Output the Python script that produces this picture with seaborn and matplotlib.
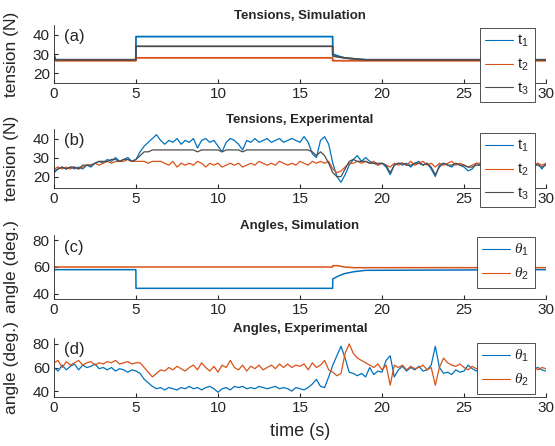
import numpy as np
import seaborn as sns
import matplotlib.pyplot as plt

# ---- simulation data (at key times) ----
t_sim = [0, 0.1, 4.99, 5.0, 16.99, 17.0, 17.3, 17.7, 18.3, 19.0, 30]
t1_sim = [30, 27, 27, 39, 39, 30, 29, 28, 27.5, 27, 27]
t2_sim = [27, 26.5, 26.5, 28, 28, 26.5, 26.5, 26.5, 26.5, 26.5, 26.5]
t3_sim = [28, 27, 27, 34, 34, 29, 28.5, 28, 27.5, 27, 27]

th1_sim = [58, 58, 58, 44, 44, 51, 53, 55, 56.5, 57.5, 58]
th2_sim = [60, 60, 60, 60, 60, 61, 61, 60, 59.5, 59.5, 59.5]

# ---- experimental data, sampled every 0.25 s ----
t_exp = np.arange(0, 30.01, 0.25)

t1_exp = [22, 24, 25, 24, 25,
          24, 25, 24, 26, 25, 27, 28, 27, 29, 28, 30, 28, 29, 30, 28, 29,
          33, 36, 38, 40, 42, 39, 37, 39, 38, 40, 37, 39, 38, 40, 35, 39,
          40, 38, 39, 36, 33, 38, 40, 39, 37, 34, 39, 38, 40, 38, 39, 40,
          38, 39, 40, 38, 39, 40, 39, 38, 41, 38, 32, 30, 39, 41, 37, 27,
          20, 17, 21, 26, 29, 31, 28, 30, 28, 27, 26, 27, 25, 21, 26, 27,
          26, 27, 25, 27, 28, 26, 27, 24, 20, 26, 27, 26, 25, 27, 26, 25,
          23, 24, 27, 26, 27, 26, 28, 26, 25, 27, 26, 27, 26, 25, 27, 26,
          25, 27, 24, 27]
t2_exp = [24, 25, 24, 25, 24,
          25, 24, 25, 26, 26, 27, 26, 27, 28, 27, 28, 28, 28, 29, 28, 28,
          28, 28, 27, 28, 28, 28, 27, 26, 28, 25, 27, 26, 27, 26, 28, 27,
          25, 27, 26, 27, 25, 26, 27, 26, 27, 25, 26, 27, 26, 28, 27, 26,
          27, 26, 28, 27, 26, 27, 26, 28, 27, 26, 28, 27, 28, 27, 28, 24,
          22, 23, 25, 27, 27, 28, 27, 28, 27, 28, 26, 27, 26, 25, 27, 26,
          27, 26, 28, 26, 27, 28, 26, 27, 25, 27, 26, 27, 28, 26, 27, 26,
          25, 26, 27, 27, 26, 27, 26, 27, 27, 26, 27, 26, 25, 27, 26, 27,
          26, 27, 26, 27]
t3_exp = [23, 24, 25, 24, 25,
          25, 24, 26, 26, 26, 27, 28, 28, 28, 29, 29, 28, 29, 29, 28, 29,
          31, 33, 33, 34, 34, 34, 34, 34, 34, 34, 34, 34, 34, 34, 33, 34,
          34, 34, 34, 34, 33, 34, 34, 34, 34, 33, 34, 34, 34, 34, 34, 34,
          34, 34, 34, 34, 34, 34, 34, 34, 34, 34, 33, 31, 33, 31, 27, 22,
          20, 20, 24, 28, 29, 28, 28, 28, 27, 27, 27, 27, 26, 22, 26, 27,
          27, 26, 26, 27, 27, 26, 27, 25, 21, 25, 27, 26, 26, 27, 26, 26,
          25, 25, 26, 26, 27, 26, 27, 26, 26, 26, 26, 27, 26, 26, 27, 26,
          26, 26, 25, 26]

th1_exp = [60, 57, 62, 58, 61,
           63, 58, 62, 60, 61, 63, 59, 60, 58, 60, 57, 59, 58, 56, 58, 57,
           55, 50, 47, 44, 42, 43, 41, 43, 42, 41, 43, 42, 44, 42, 43, 41,
           43, 44, 42, 39, 42, 43, 41, 44, 43, 44, 42, 43, 42, 44, 43, 42,
           43, 44, 42, 43, 42, 40, 43, 42, 41, 43, 46, 50, 44, 43, 52, 62,
           70, 78, 68, 56, 55, 53, 55, 52, 60, 54, 57, 56, 66, 70, 52, 58,
           61, 57, 60, 58, 61, 57, 58, 62, 78, 60, 55, 56, 54, 58, 56, 57,
           62, 59, 57, 60, 58, 61, 59, 62, 60, 58, 61, 59, 60, 62, 58, 61,
           59, 60, 58, 57]
th2_exp = [64, 66, 60, 65, 62,
           64, 66, 62, 64, 65, 62, 64, 63, 65, 64, 66, 63, 64, 65, 63, 64,
           64, 60, 56, 52, 55, 58, 57, 60, 58, 61, 59, 57, 60, 62, 58, 64,
           60, 57, 61, 56, 62, 60, 66, 60, 58, 62, 57, 61, 59, 62, 58, 60,
           62, 59, 63, 60, 63, 60, 62, 61, 63, 58, 64, 60, 62, 66, 58, 56,
           53, 55, 72, 80, 72, 68, 66, 64, 62, 60, 63, 58, 62, 45, 62, 60,
           62, 58, 61, 59, 60, 62, 58, 60, 45, 60, 68, 64, 62, 61, 63, 60,
           58, 61, 59, 60, 62, 60, 61, 59, 60, 62, 59, 61, 60, 61, 62, 59,
           61, 58, 60, 59]

blue = '#0072BD'
orange = '#D95319'
gray = '#4d4d4d'

sns.set_style('ticks')
plt.rcParams['font.family'] = ['Liberation Sans', 'DejaVu Sans']
plt.rcParams['mathtext.fontset'] = 'custom'
plt.rcParams['mathtext.rm'] = 'Liberation Sans'
plt.rcParams['mathtext.it'] = 'Liberation Serif:italic'

W, H = 555, 446
fig = plt.figure(figsize=(W / 100, H / 100), dpi=100)


def make_axes(top, bottom):
    return fig.add_axes([54 / W, 1 - bottom / H, 492 / W, (bottom - top) / H])


panels = [
    dict(top=25, bottom=83, title='Tensions, Simulation', tag='(a)', ylab='tension (N)',
         ylim=(15, 45), yticks=[20, 30, 40], x=t_sim, lw=1.3,
         series=[(t1_sim, blue, 't$_1$'), (t2_sim, orange, 't$_2$'), (t3_sim, gray, 't$_3$')],
         leg=(480, 28)),
    dict(top=129, bottom=188, title='Tensions, Experimental', tag='(b)', ylab='tension (N)',
         ylim=(14, 45), yticks=[20, 30, 40], x=t_exp, lw=0.9,
         series=[(t1_exp, blue, 't$_1$'), (t2_exp, orange, 't$_2$'), (t3_exp, gray, 't$_3$')],
         leg=(480, 133)),
    dict(top=235, bottom=299, title='Angles, Simulation', tag='(c)', ylab='angle (deg.)',
         ylim=(36, 84), yticks=[40, 60, 80], x=t_sim, lw=1.1,
         series=[(th1_sim, blue, r'$\theta_1$'), (th2_sim, orange, r'$\theta_2$')],
         leg=(477, 237)),
    dict(top=338, bottom=397, title='Angles, Experimental', tag='(d)', ylab='angle (deg.)',
         ylim=(35, 85), yticks=[40, 60, 80], x=t_exp, lw=0.9,
         series=[(th1_exp, blue, r'$\theta_1$'), (th2_exp, orange, r'$\theta_2$')],
         leg=(477, 343)),
]

for p in panels:
    ax = make_axes(p['top'], p['bottom'])
    for y, c, lab in p['series']:
        sns.lineplot(x=p['x'], y=y, color=c, lw=p['lw'], label=lab, ax=ax)
    ax.set_xlim(0, 30)
    ax.set_ylim(*p['ylim'])
    ax.set_xticks([0, 5, 10, 15, 20, 25, 30])
    ax.set_yticks(p['yticks'])
    ax.tick_params(direction='in', length=3, labelsize=11, colors='#262626', pad=3)
    ax.set_title(p['title'], fontsize=9.5, fontweight='bold', pad=4)
    ax.set_ylabel(p['ylab'], fontsize=12.5)
    ax.yaxis.set_label_coords(-0.072, 0.5)
    ax.text(0.02, 0.8, p['tag'], transform=ax.transAxes, fontsize=12, va='center')
    sns.despine(ax=ax)
    for s in ax.spines.values():
        s.set_linewidth(0.6)
    lg = ax.legend(loc='upper left', bbox_to_anchor=(p['leg'][0] / W, 1 - p['leg'][1] / H),
                   bbox_transform=fig.transFigure, fontsize=11, frameon=True, fancybox=False,
                   framealpha=1, edgecolor='#333333', handlelength=1.8, borderpad=0.35,
                   labelspacing=0.5, handletextpad=0.3, borderaxespad=0)
    lg.get_frame().set_linewidth(0.6)
    for ln in lg.get_lines():
        ln.set_linewidth(0.8)

fig.text(300 / W, 1 - 432 / H, 'time (s)', ha='center', va='center', fontsize=13)

plt.savefig('out.png', dpi=100)
